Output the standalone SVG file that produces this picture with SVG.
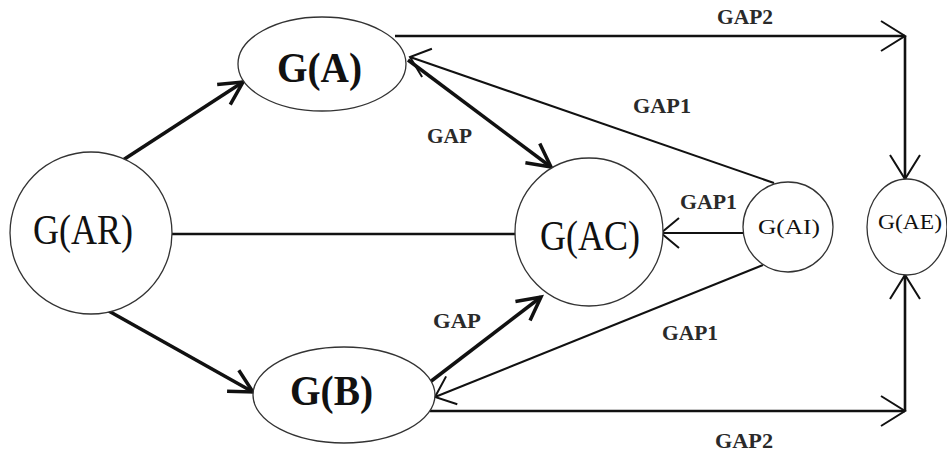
<svg xmlns="http://www.w3.org/2000/svg" width="947" height="453" viewBox="0 0 947 453">
<style>
.node{fill:#fff;stroke:#333;stroke-width:1.3}
.lbl{font-family:"Liberation Serif","Times New Roman",serif;fill:#111}
.big{font-size:42px}
.bold{font-weight:bold}
.sm{font-size:21px}
.gap{font-family:"Liberation Serif","Times New Roman",serif;font-size:21px;font-weight:bold;fill:#2a2a2a}
.thick{stroke:#111;stroke-width:3.5;fill:none}
.med{stroke:#111;stroke-width:2.6;fill:none}
.thin{stroke:#111;stroke-width:2;fill:none}
</style>
<defs>
<marker id="ahT" markerUnits="userSpaceOnUse" viewBox="-30 -20 35 40" refX="0" refY="0" markerWidth="35" markerHeight="40" orient="auto">
<path d="M-23,-12 L0,0 L-23,12" fill="none" stroke="#111" stroke-width="3.5"/>
</marker>
<marker id="ahS" markerUnits="userSpaceOnUse" viewBox="-30 -20 35 40" refX="0" refY="0" markerWidth="35" markerHeight="40" orient="auto">
<path d="M-18,-15 L0,0 L-18,15" fill="none" stroke="#111" stroke-width="2"/>
</marker>
<marker id="ahE" markerUnits="userSpaceOnUse" viewBox="-30 -20 35 40" refX="0" refY="0" markerWidth="35" markerHeight="40" orient="auto">
<path d="M-24,-15 L0,0 L-24,15" fill="none" stroke="#111" stroke-width="2"/>
</marker>
</defs>
<rect width="947" height="453" fill="#fff"/>
<g id="connectors">
<line class="thick" x1="123" y1="160" x2="243" y2="82" marker-end="url(#ahT)"/>
<line class="thick" x1="98" y1="305" x2="253" y2="392" marker-end="url(#ahT)"/>
<line class="med" x1="172" y1="234" x2="515" y2="234"/>
<line class="thick" x1="408" y1="60" x2="551" y2="167" marker-end="url(#ahT)"/>
<line class="thick" x1="430" y1="382" x2="541" y2="297" marker-end="url(#ahT)"/>
<line class="thin" x1="774" y1="183" x2="410" y2="57" marker-end="url(#ahS)"/>
<line class="thin" x1="743" y1="233" x2="661" y2="233" marker-end="url(#ahS)"/>
<line class="thin" x1="763" y1="265" x2="435" y2="397" marker-end="url(#ahS)"/>
<line class="med" x1="395" y1="36" x2="905" y2="36" marker-end="url(#ahE)"/>
<line class="med" x1="905" y1="36" x2="905" y2="179" marker-end="url(#ahE)"/>
<line class="med" x1="430" y1="411" x2="905" y2="411" marker-end="url(#ahE)"/>
<line class="med" x1="905" y1="411" x2="905" y2="275" marker-end="url(#ahE)"/>
<text class="gap" x="717" y="24" textLength="56" lengthAdjust="spacingAndGlyphs">GAP2</text>
<text class="gap" x="633" y="113" textLength="58" lengthAdjust="spacingAndGlyphs">GAP1</text>
<text class="gap" x="427" y="143" textLength="45" lengthAdjust="spacingAndGlyphs">GAP</text>
<text class="gap" x="680" y="209" textLength="57" lengthAdjust="spacingAndGlyphs">GAP1</text>
<text class="gap" x="433" y="328" textLength="48" lengthAdjust="spacingAndGlyphs">GAP</text>
<text class="gap" x="662" y="340" textLength="56" lengthAdjust="spacingAndGlyphs">GAP1</text>
<text class="gap" x="715" y="448" textLength="58" lengthAdjust="spacingAndGlyphs">GAP2</text>
</g>
<g id="node-GA">
<ellipse class="node" cx="322" cy="64" rx="84" ry="47"/>
<text class="lbl big bold" x="277" y="82" textLength="85" lengthAdjust="spacingAndGlyphs">G(A)</text>
</g>
<g id="node-GAR">
<circle class="node" cx="91" cy="233" r="81"/>
<text class="lbl big" x="33" y="244" textLength="100" lengthAdjust="spacingAndGlyphs">G(AR)</text>
</g>
<g id="node-GAC">
<circle class="node" cx="589" cy="232" r="74"/>
<text class="lbl big" x="540" y="250" textLength="100" lengthAdjust="spacingAndGlyphs">G(AC)</text>
</g>
<g id="node-GB">
<ellipse class="node" cx="344" cy="395" rx="91" ry="48"/>
<text class="lbl big bold" x="290" y="405" textLength="83" lengthAdjust="spacingAndGlyphs">G(B)</text>
</g>
<g id="node-GAI">
<circle class="node" cx="788" cy="227" r="45"/>
<text class="lbl sm" x="758" y="234" textLength="62" lengthAdjust="spacingAndGlyphs">G(AI)</text>
</g>
<g id="node-GAE">
<ellipse class="node" cx="907" cy="227" rx="40" ry="48"/>
<text class="lbl sm" x="878" y="229" textLength="64" lengthAdjust="spacingAndGlyphs">G(AE)</text>
</g>
</svg>
